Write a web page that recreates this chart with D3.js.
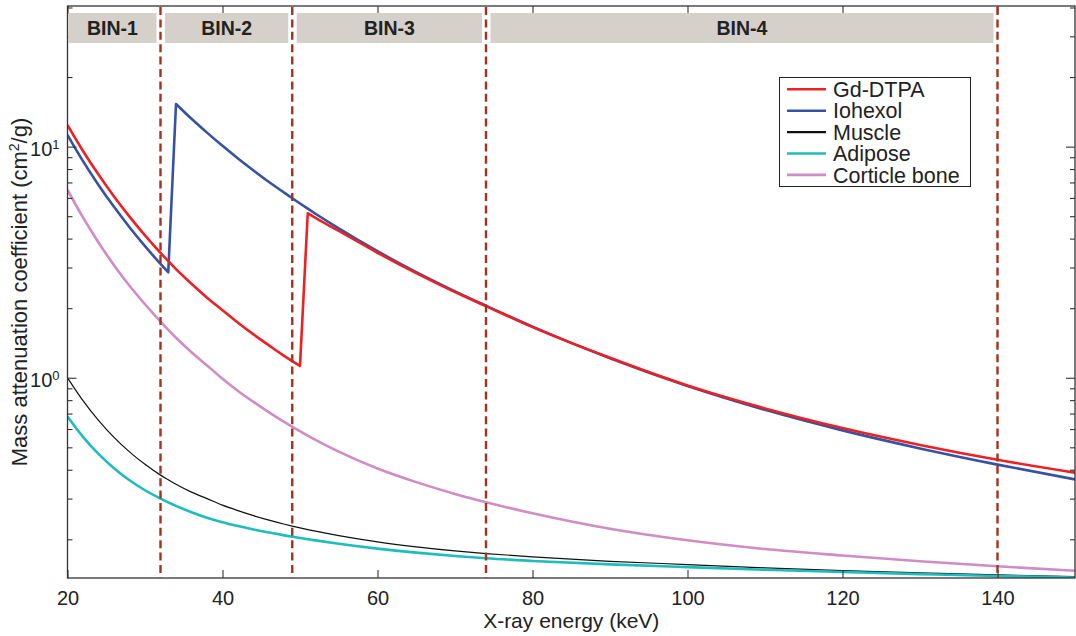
<!DOCTYPE html>
<html>
<head>
<meta charset="utf-8">
<script src="https://cdn.jsdelivr.net/npm/d3@7"></script>
<style>
  html, body { margin: 0; padding: 0; background: #fff; }
  svg { display: block; font-family: "Liberation Sans", Arial, Helvetica, sans-serif; }
</style>
</head>
<body>
<svg id="chart" width="1076" height="636"></svg>
<script>
// Photon energies (keV) at which the attenuation curves are sampled
const energy = [20, 22, 24, 26, 28, 30, 32, 33, 34, 36, 38, 40, 42, 44, 46, 48, 49, 50,
                51, 52, 55, 60, 65, 70, 74, 80, 90, 100, 110, 120, 130, 140, 150];

// Mass attenuation coefficients (cm^2/g)
const gdDTPA  = [12.4, 9.58, 7.57, 6.09, 4.98, 4.13, 3.47, 3.20, 2.95, 2.55, 2.22, 1.96, 1.73, 1.54, 1.38, 1.24, 1.18, 1.125,
                 5.15, 4.92, 4.318, 3.474, 2.834, 2.348, 2.042, 1.656, 1.22, 0.9256, 0.737, 0.6059, 0.5122, 0.4417, 0.3884];
const iohexol = [11.23, 8.66, 6.83, 5.49, 4.48, 3.71, 3.11, 2.86, 15.3, 13.2, 11.5, 10.08, 8.89, 7.89, 7.03, 6.31, 5.98, 5.675,
                 5.391, 5.125, 4.429, 3.527, 2.863, 2.365, 2.05, 1.664, 1.214, 0.921, 0.7265, 0.5919, 0.4945, 0.4209, 0.3632];
const muscle  = [1.00, 0.796, 0.654, 0.552, 0.478, 0.422, 0.379, 0.362, 0.346, 0.320, 0.300, 0.281, 0.266, 0.253, 0.2419, 0.2323, 0.228, 0.224,
                 0.2203, 0.2168, 0.2074, 0.1949, 0.1855, 0.1781, 0.1735, 0.1679, 0.1606, 0.1555, 0.1505, 0.1465, 0.1432, 0.1402, 0.1378];
const adipose = [0.680, 0.555, 0.468, 0.406, 0.360, 0.326, 0.300, 0.289, 0.279, 0.262, 0.248, 0.237, 0.2282, 0.2206, 0.2138, 0.2079, 0.2052, 0.2026,
                 0.2001, 0.1978, 0.1913, 0.1823, 0.1751, 0.1694, 0.1655, 0.1612, 0.1557, 0.1515, 0.1477, 0.1443, 0.1414, 0.1388, 0.1366];
const bone    = [6.50, 4.94, 3.85, 3.07, 2.50, 2.08, 1.748, 1.61, 1.49, 1.29, 1.13, 0.99, 0.877, 0.786, 0.708, 0.642, 0.613, 0.587,
                 0.562, 0.539, 0.479, 0.405, 0.3535, 0.3144, 0.2895, 0.2593, 0.2222, 0.198, 0.1815, 0.1702, 0.1607, 0.1528, 0.1462];

// Energy thresholds separating the detector bins (keV)
const binThresholds = [32, 49, 74, 140];
const binLabels = ["BIN-1", "BIN-2", "BIN-3", "BIN-4"];

// Axis ticks
const xTickValues = [20, 40, 60, 80, 100, 120, 140];
const yMajorTicks = [1, 10];
const yMinorTicks = [0.2, 0.3, 0.4, 0.5, 0.6, 0.7, 0.8, 0.9, 2, 3, 4, 5, 6, 7, 8, 9, 20, 30, 40];

const seriesList = [
  { name: "Corticle bone", values: bone,    color: "#d18bc5", width: 2.6, edge: null },
  { name: "Muscle",        values: muscle,  color: "#111111", width: 1.2, edge: null },
  { name: "Adipose",       values: adipose, color: "#1dbdbd", width: 2.6, edge: null },
  { name: "Iohexol",       values: iohexol, color: "#3552a3", width: 2.6, edge: 34 },
  { name: "Gd-DTPA",       values: gdDTPA,  color: "#ee2024", width: 2.6, edge: 51 }
];
const legendOrder = ["Gd-DTPA", "Iohexol", "Muscle", "Adipose", "Corticle bone"];

const plot = { left: 67.5, right: 1075, top: 6, bottom: 578 };

const svg = d3.select("#chart");
const x = d3.scaleLinear().domain([20, 150]).range([plot.left, plot.right]);
const y = d3.scaleLog().domain([0.136, 40.6]).range([plot.bottom, plot.top]);

const axisColor = "#333";

// clip region for curves
svg.append("defs").append("clipPath").attr("id", "plotClip")
  .append("rect")
  .attr("x", plot.left).attr("y", plot.top)
  .attr("width", plot.right - plot.left).attr("height", plot.bottom - plot.top);

// ---- curves ----
const line = d3.line()
  .x(d => x(d[0]))
  .y(d => y(d[1]))
  .curve(d3.curveMonotoneX);

const curves = svg.append("g").attr("clip-path", "url(#plotClip)");
seriesList.forEach(s => {
  const pts = energy.map((e, i) => [e, s.values[i]]);
  let path;
  if (s.edge == null) {
    path = line(pts);
  } else {
    // absorption edge: smooth before and after, straight jump across the edge
    const pre = pts.filter(p => p[0] < s.edge);
    const post = pts.filter(p => p[0] >= s.edge);
    path = line(pre) + line(post).replace(/^M/, "L");
  }
  curves.append("path")
    .attr("d", path)
    .attr("fill", "none")
    .attr("stroke", s.color)
    .attr("stroke-width", s.width)
    .attr("stroke-linejoin", "round");
});

// ---- axes (ticks point inward) ----
const xAxisBottom = d3.axisBottom(x).tickValues(xTickValues).tickSizeInner(-8).tickSizeOuter(0).tickPadding(13);
const gxb = svg.append("g").attr("transform", `translate(0,${plot.bottom})`).call(xAxisBottom);
gxb.select(".domain").remove();
gxb.selectAll("line").attr("stroke", axisColor).attr("stroke-width", 1.1);
gxb.selectAll("text").attr("font-size", 20).attr("fill", "#222")
  .attr("font-family", "'Liberation Sans', Arial, sans-serif");

const xAxisTop = d3.axisTop(x).tickValues(xTickValues).tickSizeInner(-8).tickSizeOuter(0).tickFormat("");
const gxt = svg.append("g").attr("transform", `translate(0,${plot.top})`).call(xAxisTop);
gxt.select(".domain").remove();
gxt.selectAll("line").attr("stroke", axisColor).attr("stroke-width", 1.1);

function yAxes(axisFn, tx, values, size, labelled) {
  const ax = axisFn(y).tickValues(values).tickSizeInner(-size).tickSizeOuter(0).tickPadding(8);
  ax.tickFormat(() => "");
  const g = svg.append("g").attr("transform", `translate(${tx},0)`).call(ax);
  g.select(".domain").remove();
  g.selectAll("line").attr("stroke", axisColor).attr("stroke-width", 1.1);
  if (labelled) {
    g.selectAll(".tick text").each(function(d) {
      const t = d3.select(this)
        .attr("font-size", 20).attr("fill", "#222")
        .attr("font-family", "'Liberation Sans', Arial, sans-serif")
        .attr("dy", "0.45em");
      t.text("10");
      t.append("tspan").attr("font-size", 13).attr("dy", -7).text(Math.round(Math.log10(d)));
    });
  } else {
    g.selectAll(".tick text").remove();
  }
}
yAxes(d3.axisLeft, plot.left, yMajorTicks, 9, true);
yAxes(d3.axisLeft, plot.left, yMinorTicks, 5, false);
yAxes(d3.axisRight, plot.right, yMajorTicks, 9, false);
yAxes(d3.axisRight, plot.right, yMinorTicks, 5, false);

// frame
svg.append("rect")
  .attr("x", plot.left).attr("y", plot.top)
  .attr("width", plot.right - plot.left).attr("height", plot.bottom - plot.top)
  .attr("fill", "none").attr("stroke", axisColor).attr("stroke-width", 1.3);

// ---- energy bin bands ----
const bandTop = 13, bandHeight = 30;
const bandEdges = [20].concat(binThresholds);
const bands = svg.append("g");
binLabels.forEach((lab, i) => {
  const x0 = i === 0 ? x(bandEdges[0]) + 0.7 : x(bandEdges[i]) + 4.5;
  const x1 = x(bandEdges[i + 1]) - 4;
  bands.append("rect")
    .attr("x", x0).attr("y", bandTop)
    .attr("width", x1 - x0).attr("height", bandHeight)
    .attr("fill", "#d5d0c9");
  bands.append("text")
    .attr("x", (x0 + x1) / 2).attr("y", bandTop + 22)
    .attr("text-anchor", "middle")
    .attr("font-size", 19.5).attr("font-weight", "bold")
    .attr("fill", "#222")
    .text(lab);
});

// threshold lines
svg.append("g").selectAll("line")
  .data(binThresholds)
  .join("line")
  .attr("x1", d => x(d)).attr("x2", d => x(d))
  .attr("y1", plot.top + 1).attr("y2", plot.bottom)
  .attr("stroke", "#a3321f")
  .attr("stroke-width", 2.4)
  .attr("stroke-dasharray", "8,4.4");

// ---- legend ----
const lg = svg.append("g");
lg.append("rect")
  .attr("x", 779.5).attr("y", 77.5).attr("width", 191).attr("height", 109)
  .attr("fill", "#fff").attr("stroke", "#222").attr("stroke-width", 1);
legendOrder.forEach((name, i) => {
  const s = seriesList.find(d => d.name === name);
  const ly = 89.3 + i * 21.4;
  lg.append("line")
    .attr("x1", 787).attr("x2", 826).attr("y1", ly).attr("y2", ly)
    .attr("stroke", s.color).attr("stroke-width", s.width < 2 ? 2.2 : 2.6);
  lg.append("text")
    .attr("x", 833).attr("y", ly).attr("dy", "0.36em")
    .attr("font-size", 21.5).attr("fill", "#222")
    .text(name);
});

// ---- axis titles ----
svg.append("text")
  .attr("x", (plot.left + plot.right) / 2).attr("y", 628)
  .attr("text-anchor", "middle")
  .attr("font-size", 21).attr("fill", "#222")
  .text("X-ray energy (keV)");

const yt = svg.append("text")
  .attr("transform", `translate(27,${(plot.top + plot.bottom) / 2}) rotate(-90)`)
  .attr("text-anchor", "middle")
  .attr("font-size", 22).attr("fill", "#222");
yt.append("tspan").text("Mass attenuation coefficient (cm");
yt.append("tspan").attr("font-size", 14).attr("dy", -8).text("2");
yt.append("tspan").attr("dy", 8).text("/g)");
</script>
</body>
</html>
